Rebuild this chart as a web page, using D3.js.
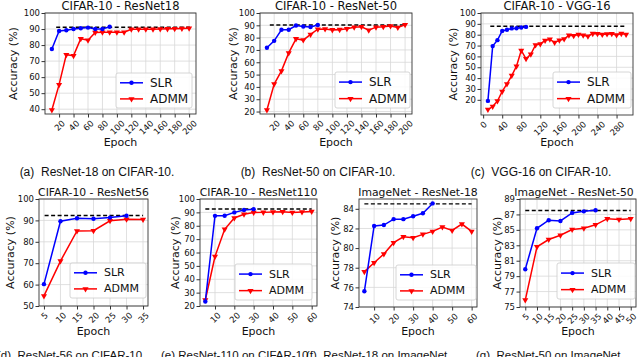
<!DOCTYPE html>
<html><head><meta charset="utf-8">
<script src="https://cdn.jsdelivr.net/npm/d3@7"></script>
<style>body{margin:0;background:#fff} text{white-space:pre}</style>
</head><body>
<svg id="fig" width="640" height="357"></svg>
<script>
// epochs and accuracies
const epochsC200 = [10,20,30,40,50,60,70,80,90,100,110,120,130,140,150,160,170,180,190,200];
const epochsC300 = [10,20,30,40,50,60,70,80,90,100,110,120,130,140,150,160,170,180,190,200,210,220,230,240,250,260,270,280,290,300];

const r18SlrX = [10,20,30,40,50,60,70,80,90];
const r18Slr = [77.5,88.8,89.2,90,90.5,90.9,90,90,91.4];
const r18Admm = [39.5,55.3,74,73.4,84,83,87.8,88,88,88,88,89.8,89.8,89.8,89.8,90,90.1,90.2,90.4,90.5];
const r18Ref = 91.1;

const r50SlrX = [10,20,30,40,50,60,70,80];
const r50Slr = [71.8,77.4,86.4,86.4,89.8,89,88.6,90.2];
const r50Admm = [21.2,42.3,53,67.6,79,78,82.6,86.8,87,86.3,86.5,87.2,88.5,88.8,86,88.5,88.8,89.5,88.3,90.4];
const r50Ref = 90.3;

const vggSlrX = [10,20,30,40,50,60,70,80,90];
const vggSlr = [19,69.5,75,83.5,84.5,85.8,86,86.6,87.2];
const vggAdmm = [11,13.8,18.8,27.7,34.6,42.3,51,65.5,57.8,62,70.5,71.5,74.6,75.8,72.8,74.8,76,79.4,79,80.2,79.5,78.6,81,80.8,80.2,80.6,80.8,79.8,81,80.2];
const vggRef = 87.8;

const r56SlrX = [5,10,15,20,25,30];
const r56Slr = [60.2,89.6,91,90.8,91.3,92.2];
const r56AdmmX = [5,10,15,20,25,30,35];
const r56Admm = [54.7,71,85.1,85.2,89.8,90.5,90.4];
const r56Ref = 92.3;

const r110SlrX = [5,10,15,20,25,30];
const r110Slr = [23.4,87.4,87.5,90,91.8,92.4];
const r110AdmmX = [5,10,15,20,25,30,35,40,45,50,55,60];
const r110Admm = [24.5,57,77.3,85.8,88.6,89.9,90,90.2,90.4,89.9,90.3,90.6];
const r110Ref = 92.5;

const inR18SlrX = [5,10,15,20,25,30,35,40];
const inR18Slr = [75.6,82.25,82.35,82.95,82.95,83.25,83.55,84.55];
const inR18AdmmX = [5,10,15,20,25,30,35,40,45,50,55,60];
const inR18Admm = [77.6,78.5,79.4,80.55,81.15,81.05,81.4,81.7,82.15,81.8,82.45,81.7];
const inR18Ref = 84.5;

const inR50SlrX = [5,10,15,20,25,30,35];
const inR50Slr = [79.9,85.2,86.25,86.15,87.2,87.4,87.55];
const inR50AdmmX = [5,10,15,20,25,30,35,40,45,50];
const inR50Admm = [75.9,82.8,83.75,84.3,85.05,85.2,85.65,86.45,86.35,86.45];
const inR50Ref = 87.5;

const xTicks200 = [20,40,60,80,100,120,140,160,180,200];
const xTicks300 = [0,40,80,120,160,200,240,280];
const xTicks35 = [5,10,15,20,25,30,35];
const xTicks60 = [10,20,30,40,50,60];
const xTicks50 = [5,10,15,20,25,30,35,40,45,50];
const yTicks40 = [40,50,60,70,80,90,100];
const yTicks20 = [20,30,40,50,60,70,80,90,100];
const yTicks50 = [50,60,70,80,90,100];
const yTicksIn18 = [74,76,78,80,82,84];
const yTicksIn50 = [75,77,79,81,83,85,87,89];

const titles = ["CIFAR-10 - ResNet18","CIFAR-10 - ResNet-50","CIFAR-10 - VGG-16",
  "CIFAR-10 - ResNet56","CIFAR-10 - ResNet110","ImageNet - ResNet-18","ImageNet - ResNet-50"];
const captionsTop = ["(a)  ResNet-18 on CIFAR-10.","(b)  ResNet-50 on CIFAR-10.","(c)  VGG-16 on CIFAR-10."];
const captionsBottom = ["(d)  ResNet-56 on CIFAR-10.","(e) ResNet-110 on CIFAR-10","(f)  ResNet-18 on ImageNet","(g)  ResNet-50 on ImageNet"];

const panels = [
  {box:[45,13,196,114], xd:[0.5,209.5], yd:[37,100], xt:xTicks200, yt:yTicks40,
   sx:r18SlrX, sy:r18Slr, ax:epochsC200, ay:r18Admm, ref:r18Ref, refX:[16,201], leg:[116,73,192,108], ylx:13, xly:146, top:true},
  {box:[260,13,412,114], xd:[0.5,209.5], yd:[18,100], xt:xTicks200, yt:yTicks20,
   sx:r50SlrX, sy:r50Slr, ax:epochsC200, ay:r50Admm, ref:r50Ref, refX:[14,200], leg:[335,72,410,108], ylx:233, xly:146, top:true},
  {box:[481,13,633,115], xd:[-4.5,314.5], yd:[6,100], xt:xTicks300, yt:yTicks20,
   sx:vggSlrX, sy:vggSlr, ax:epochsC300, ay:vggAdmm, ref:vggRef, refX:[15,301], leg:[553,72,631,108], ylx:453, xly:146, top:true},
  {box:[39,199,148,306], xd:[3.5,36.5], yd:[50,100], xt:xTicks35, yt:yTicks50,
   sx:r56SlrX, sy:r56Slr, ax:r56AdmmX, ay:r56Admm, ref:r56Ref, refX:[5.2,35], leg:[70,263,146,298], ylx:10, xly:335},
  {box:[200,199,317,306], xd:[2.25,62.75], yd:[20,100], xt:xTicks60, yt:yTicks20,
   sx:r110SlrX, sy:r110Slr, ax:r110AdmmX, ay:r110Admm, ref:r110Ref, refX:[5,60], leg:[235,264,312,300], ylx:175, xly:335},
  {box:[359,199,477,307], xd:[2.25,62.75], yd:[74,85], xt:xTicks60, yt:yTicksIn18,
   sx:inR18SlrX, sy:inR18Slr, ax:inR18AdmmX, ay:inR18Admm, ref:inR18Ref, refX:[5,60], leg:[396,265,476,300], ylx:335, xly:335},
  {box:[520,199,636,307], xd:[2.75,52.25], yd:[75,89], xt:xTicks50, yt:yTicksIn50,
   sx:inR50SlrX, sy:inR50Slr, ax:inR50AdmmX, ay:inR50Admm, ref:inR50Ref, refX:[5,50], leg:[557,263,635,299], ylx:497, xly:335, tx:574}
];

const svg = d3.select("#fig");
const font = "DejaVu Sans, sans-serif";
const blue = "#0000ff", red = "#ff0000";
const tri = d3.symbol().type(d3.symbolTriangle).size(16);

panels.forEach((p, i) => {
  const [x0, y0, x1, y1] = p.box;
  const x = d3.scaleLinear().domain(p.xd).range([x0, x1]);
  const y = d3.scaleLinear().domain(p.yd).range([y1, y0]);
  const g = svg.append("g");
  const tickFs = 8.5;

  // grid
  g.append("g").selectAll("line").data(p.xt.filter(v => v >= p.xd[0] && v <= p.xd[1])).join("line")
    .attr("x1", d => x(d)).attr("x2", d => x(d)).attr("y1", y0).attr("y2", y1)
    .attr("stroke", "#d8d8d8").attr("stroke-width", 0.8);
  g.append("g").selectAll("line").data(p.yt).join("line")
    .attr("x1", x0).attr("x2", x1).attr("y1", d => y(d)).attr("y2", d => y(d))
    .attr("stroke", "#d8d8d8").attr("stroke-width", 0.8);

  // axes
  const xa = g.append("g").attr("transform", `translate(0,${y1})`)
    .call(d3.axisBottom(x).tickValues(p.xt).tickSize(3.5).tickSizeOuter(0));
  xa.select(".domain").remove();
  xa.selectAll("line").attr("stroke", "#333");
  xa.selectAll("text")
    .attr("y", null).attr("dy", null)
    .attr("font-family", font).attr("font-size", tickFs).attr("fill", "#111")
    .attr("text-anchor", "middle").attr("dominant-baseline", "central")
    .attr("transform", d => {
      const w = String(d).length * tickFs * 0.636;
      const off = 3.5 + 2 + (w + tickFs * 0.75) * 0.707 / 2;
      return `translate(0,${off}) rotate(-45)`;
    });

  const ya = g.append("g").attr("transform", `translate(${x0},0)`)
    .call(d3.axisLeft(y).tickValues(p.yt).tickSize(3.5).tickSizeOuter(0));
  ya.select(".domain").remove();
  ya.selectAll("line").attr("stroke", "#333");
  ya.selectAll("text").attr("font-family", font).attr("font-size", tickFs).attr("fill", "#111").attr("x", -5);

  g.append("rect").attr("x", x0).attr("y", y0).attr("width", x1 - x0).attr("height", y1 - y0)
    .attr("fill", "none").attr("stroke", "#333").attr("stroke-width", 0.9);

  // reference line
  g.append("line").attr("x1", x(p.refX[0])).attr("x2", x(p.refX[1]))
    .attr("y1", y(p.ref)).attr("y2", y(p.ref))
    .attr("stroke", "#000").attr("stroke-width", 1.4).attr("stroke-dasharray", "4,2.5");

  const line = d3.line().x(d => x(d[0])).y(d => y(d[1]));
  const admm = p.ax.map((e, k) => [e, p.ay[k]]);
  const slr = p.sx.map((e, k) => [e, p.sy[k]]);

  g.append("path").datum(admm).attr("d", line).attr("fill", "none").attr("stroke", red).attr("stroke-width", 1.5);
  g.append("g").selectAll("path").data(admm).join("path")
    .attr("d", tri).attr("fill", red)
    .attr("transform", d => `translate(${x(d[0])},${y(d[1])}) rotate(180)`);

  g.append("path").datum(slr).attr("d", line).attr("fill", "none").attr("stroke", blue).attr("stroke-width", 1.5);
  g.append("g").selectAll("circle").data(slr).join("circle")
    .attr("cx", d => x(d[0])).attr("cy", d => y(d[1])).attr("r", 2.2).attr("fill", blue);

  // title and labels
  const titleFs = p.top ? 11.5 : 10.8;
  g.append("text").attr("x", p.tx || (x0 + x1) / 2).attr("y", y0 - 3.5)
    .attr("text-anchor", "middle").attr("font-family", font).attr("font-size", titleFs).attr("fill", "#111")
    .text(titles[i]);
  g.append("text").attr("transform", `translate(${p.ylx},${(y0 + y1) / 2}) rotate(-90)`)
    .attr("text-anchor", "middle").attr("dominant-baseline", "central")
    .attr("font-family", font).attr("font-size", 11).attr("fill", "#111").text("Accuracy (%)");
  g.append("text").attr("x", (x0 + x1) / 2).attr("y", p.xly)
    .attr("text-anchor", "middle").attr("font-family", font).attr("font-size", 11).attr("fill", "#111").text("Epoch");

  // legend
  const [lx0, ly0, lx1, ly1] = p.leg;
  const lh = ly1 - ly0;
  const lg = g.append("g");
  lg.append("rect").attr("x", lx0).attr("y", ly0).attr("width", lx1 - lx0).attr("height", lh)
    .attr("rx", 2).attr("fill", "#fff").attr("fill-opacity", 0.85).attr("stroke", "#ccc").attr("stroke-width", 0.8);
  [["SLR", blue, "c", 0.28], ["ADMM", red, "t", 0.74]].forEach(([name, col, m, f]) => {
    const yy = ly0 + lh * f;
    lg.append("line").attr("x1", lx0 + 4).attr("x2", lx0 + 27).attr("y1", yy).attr("y2", yy)
      .attr("stroke", col).attr("stroke-width", 1.5);
    if (m === "c") lg.append("circle").attr("cx", lx0 + 15.5).attr("cy", yy).attr("r", 2.2).attr("fill", col);
    else lg.append("path").attr("d", tri).attr("fill", col).attr("transform", `translate(${lx0 + 15.5},${yy}) rotate(180)`);
    lg.append("text").attr("x", lx0 + 34).attr("y", yy).attr("dominant-baseline", "central")
      .attr("font-family", font).attr("font-size", p.top ? 12 : 11).attr("fill", "#111").text(name);
  });
});

// captions
const capFont = "Liberation Sans, Arial, sans-serif";
const capTopX = [97, 318, 541];
svg.append("g").selectAll("text").data(captionsTop).join("text")
  .attr("x", (d, k) => capTopX[k]).attr("y", 176).attr("text-anchor", "middle")
  .attr("font-family", capFont).attr("font-size", 12).attr("fill", "#111").text(d => d);
const capBotX = [-3, 161, 306, 476];
svg.append("g").selectAll("text").data(captionsBottom).join("text")
  .attr("x", (d, k) => capBotX[k]).attr("y", 359)
  .attr("font-family", capFont).attr("font-size", 11.5).attr("fill", "#111").text(d => d);
</script>
</body></html>
